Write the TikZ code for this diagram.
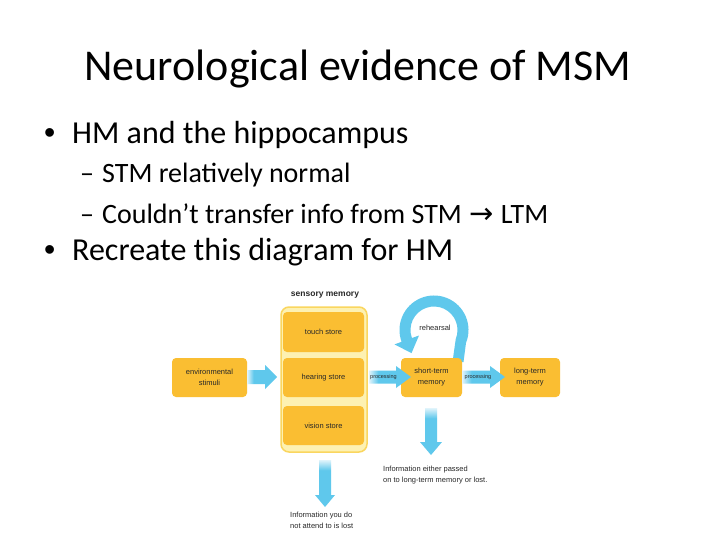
\documentclass[tikz,border=0pt]{standalone}
\usepackage{fontspec}
\setmainfont{Carlito}
\newfontfamily\diagfont{Liberation Sans}
\newfontfamily\symfont{DejaVu Sans}
\usetikzlibrary{calc}
\definecolor{boxyellow}{RGB}{250,190,50}
\definecolor{paleyellow}{RGB}{253,241,178}
\definecolor{edgeyellow}{RGB}{250,214,95}
\definecolor{arrowblue}{RGB}{95,200,236}
\definecolor{arrowpale}{RGB}{225,244,251}
\definecolor{diagtext}{RGB}{40,40,40}
\pgfdeclarehorizontalshading{fadeR}{100bp}{color(0bp)=(white); color(25bp)=(arrowpale); color(36bp)=(arrowblue); color(100bp)=(arrowblue)}
\pgfdeclareverticalshading{fadeD}{100bp}{color(0bp)=(arrowblue); color(64bp)=(arrowblue); color(75bp)=(arrowpale); color(100bp)=(white)}
\newcommand{\rblock}[5]{\shade[shading=fadeR] ($(#1)+(0,-#3)$) -- ($(#2)+(-#5,-#3)$) -- ($(#2)+(-#5,-#4)$) -- (#2) -- ($(#2)+(-#5,#4)$) -- ($(#2)+(-#5,#3)$) -- ($(#1)+(0,#3)$) -- cycle;}
\newcommand{\dblock}[5]{\shade[shading=fadeD] ($(#1)+(-#3,0)$) -- ($(#2)+(-#3,-#5)$) -- ($(#2)+(-#4,-#5)$) -- (#2) -- ($(#2)+(#4,-#5)$) -- ($(#2)+(#3,-#5)$) -- ($(#1)+(#3,0)$) -- cycle;}
\tikzset{
  titletext/.style={font=\fontsize{44}{52}\selectfont, inner sep=0pt, anchor=base},
  lvlone/.style={font=\fontsize{32}{38}\selectfont, inner sep=0pt, anchor=base west},
  lvltwo/.style={font=\fontsize{28}{34}\selectfont, inner sep=0pt, anchor=base west},
  bulletmark/.style={font=\diagfont\fontsize{32}{38}\selectfont, inner sep=0pt, anchor=base west},
  storebox/.style={fill=boxyellow, rounded corners=4pt, inner sep=0pt, align=center, text=diagtext, font=\diagfont\fontsize{7.5}{11}\selectfont},
  outerbox/.style={fill=paleyellow, draw=edgeyellow, line width=1.5pt, rounded corners=8pt, inner sep=0pt},
  lbl/.style={inner sep=0pt, align=left, text=diagtext, font=\diagfont\fontsize{7.5}{11}\selectfont},
  tinylbl/.style={inner sep=0pt, text=diagtext, font=\diagfont\fontsize{5.5}{6}\selectfont}
}
\begin{document}
\begin{tikzpicture}[x=1pt, y=-1pt]
\useasboundingbox[fill=white] (0,0) rectangle (720,540);
% title and bullets
\node[titletext] (title) at (358,81) {Neurological evidence of MSM};
\node[bulletmark] (b1) at (44,144) {•};
\node[lvlone] (t1) at (72,144) {HM and the hippocampus};
\node[lvltwo] (d1) at (80,183) {–};
\node[lvltwo] (t2) at (102,183) {STM relatively normal};
\node[lvltwo] (d2) at (80,223) {–};
\node[lvltwo] (t3) at (102,223) {Couldn’t transfer info from STM \hspace{1pt}{\symfont\fontsize{29}{30}\selectfont →}\hspace{1pt} LTM};
\node[bulletmark] (b2) at (44,260) {•};
\node[lvlone] (t4) at (72,260) {Recreate this diagram for HM};
% rehearsal loop
\fill[arrowblue] (463.5,362) -- ([shift={(434,330)}]22:34.5) arc[start angle=22, end angle=-200, radius=34.5]
  -- (394.5,344.4) -- (411.5,353.1) -- (419.0,335.5)
  -- ([shift={(434,330)}]-200:23.5) arc[start angle=-200, end angle=22, radius=23.5] -- (452.5,362) -- cycle;
% boxes
\node[storebox, minimum width=75pt, minimum height=39pt] (env) at (209.5,377.5) {environmental\\stimuli};
\node[outerbox, minimum width=86pt, minimum height=145pt] (sens) at (324,379.5) {};
\node[storebox, minimum width=81pt, minimum height=40pt] (touch) at (323.5,332) {touch store};
\node[storebox, minimum width=81pt, minimum height=39pt] (hear) at (323.5,377.5) {hearing store};
\node[storebox, minimum width=81pt, minimum height=39pt] (vis) at (323.5,425.5) {vision store};
\node[storebox, minimum width=61pt, minimum height=39pt] (stm) at (431.5,377.5) {short-term\\memory};
\node[storebox, minimum width=60pt, minimum height=39pt] (ltm) at (530,377.5) {long-term\\memory};
\node[inner sep=0pt, text=diagtext, font=\diagfont\bfseries\fontsize{8.5}{10}\selectfont] (senslbl) at (325,295) {sensory memory};
\node[inner sep=0pt, text=diagtext, font=\diagfont\fontsize{7.5}{9}\selectfont] (rehlbl) at (435,328) {rehearsal};
% arrow end points
\coordinate (a1s) at (247,377);
\coordinate (a1e) at (277,377);
\coordinate (a2s) at (369,377);
\coordinate (a2e) at (411,377);
\coordinate (a3s) at (462,377);
\coordinate (a3e) at (505,377);
\coordinate (v1s) at (431,408);
\coordinate (v1e) at (431,455);
\coordinate (v2s) at (325,460);
\coordinate (v2e) at (325,507);
\rblock{a1s}{a1e}{7}{12}{12}
\rblock{a2s}{a2e}{6.5}{11}{15}
\rblock{a3s}{a3e}{6.5}{11}{15}
\dblock{v1s}{v1e}{6}{11}{13}
\dblock{v2s}{v2e}{6}{10}{12}
\node[tinylbl] (p1) at (383.5,377) {processing};
\node[tinylbl] (p2) at (478,377) {processing};
% notes
\node[lbl, anchor=north west] (note1) at (383,465.5) {Information either passed\\on to long-term memory or lost.};
\node[lbl, anchor=north west] (note2) at (290,511.5) {Information you do\\not attend to is lost};
\end{tikzpicture}
\end{document}
